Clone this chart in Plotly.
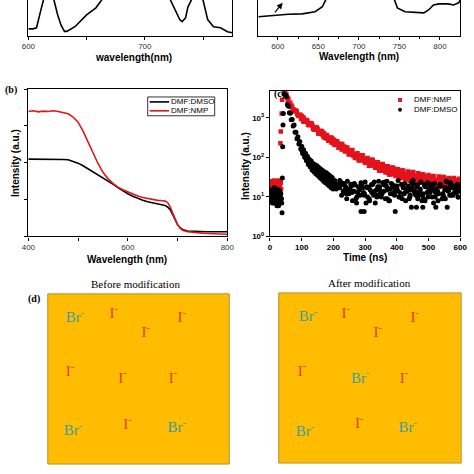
import plotly.graph_objects as go

W = H = 474


def fx(px):
    return px / W


def fy(py):
    return 1 - py / H


# ---------------- data ----------------
# top-left partial panel (wavelength, relative signal)
tl_wl = [600, 604, 607, 609, 611, 613, 614, 620, 622, 625, 628, 631, 633, 640, 650, 658, 663, 665,
         720, 722, 726, 730, 732, 735, 737, 740, 742, 748, 750, 754, 759, 765, 771, 775]
tl_val = [0.19, 0.19, 0.22, 0.45, 0.75, 1.0, 1.4, 1.4, 1.0, 0.6, 0.3, 0.12, 0.12, 0.25, 0.58, 0.78, 1.0, 1.4,
          1.4, 1.0, 0.7, 0.45, 0.39, 0.5, 0.8, 1.0, 1.4, 1.4, 1.0, 0.45, 0.25, 0.22, 0.11, 0.08]

# top-right partial panel
tr_wl = [576, 590, 601, 613, 630, 646, 655, 657.5, 659, 661, 741, 744, 747.5, 757, 770, 780, 786, 792,
         799, 810, 817, 823, 825]
tr_val = [0.53, 0.56, 0.58, 0.60, 0.61, 0.67, 0.81, 0.92, 1.0, 1.4, 1.4, 1.0, 0.78, 0.67, 0.65, 0.64, 0.72,
          0.86, 0.89, 0.89, 0.86, 0.92, 1.0]

# panel (b): absorption
wl_b = [400, 410, 420, 430, 440, 450, 460, 470, 480, 490, 500, 510, 520, 530, 540, 550, 560, 570, 580, 590,
        600, 610, 620, 630, 640, 650, 660, 670, 675, 680, 685, 690, 695, 700, 705, 710, 720, 730, 740, 750,
        760, 770, 780, 790, 800]
abs_dmso = [2.10, 2.10, 2.10, 2.11, 2.10, 2.10, 2.10, 2.09, 2.08, 2.04, 1.99, 1.92, 1.84, 1.75, 1.66, 1.58,
            1.50, 1.42, 1.33, 1.24, 1.16, 1.09, 1.03, 0.98, 0.94, 0.91, 0.88, 0.86, 0.84, 0.80, 0.73, 0.60,
            0.45, 0.32, 0.24, 0.19, 0.15, 0.14, 0.13, 0.13, 0.13, 0.13, 0.13, 0.13, 0.13]
abs_nmp = [3.39, 3.41, 3.38, 3.40, 3.39, 3.41, 3.39, 3.37, 3.33, 3.24, 3.10, 2.86, 2.56, 2.25, 1.98, 1.74,
           1.57, 1.44, 1.34, 1.27, 1.21, 1.15, 1.10, 1.06, 1.03, 1.00, 0.98, 0.97, 0.96, 0.92, 0.81, 0.64,
           0.46, 0.32, 0.23, 0.17, 0.13, 0.11, 0.10, 0.09, 0.08, 0.08, 0.07, 0.07, 0.06]

# panel (c): TRPL decay (time in ns, counts)
nmp_t_early = [1, 4, 7, 10, 13, 16, 19, 22, 25, 28, 31, 34, 2, 5, 8, 11, 14, 17, 20, 23, 26, 29, 32, 35]
nmp_i_early = [20, 25, 16, 22, 26, 18, 24, 14, 21, 26, 19, 23, 14, 19, 24, 13, 17, 22, 15, 25, 18, 13, 24, 16]
nmp_t_rise = [33, 34, 37, 38, 41, 44, 48]
nmp_i_rise = [230, 450, 1300, 2900, 5200, 6000, 4700]
nmp_t_a = [52, 60, 68, 76, 84, 92, 100, 108, 116, 124, 132, 140, 148, 156, 164, 172, 180, 188, 196, 204,
           212, 220, 228, 236, 244, 252, 260, 268, 276, 284, 292, 300, 308, 316, 324, 332, 340, 348, 356,
           364, 372, 380, 388, 396, 404, 412, 420, 428, 436, 444, 452, 460, 468, 476, 484, 492, 500, 508,
           516, 524, 532, 540, 548, 556, 564, 572, 580, 588, 596]
nmp_i_a = [3900, 2340, 2060, 1460, 1480, 1120, 1125, 800, 890, 650, 725, 505, 570, 395, 460, 315, 372, 265,
           310, 206, 256, 176, 218, 141, 178, 119, 154, 98, 128, 85, 113, 73, 97, 62, 88, 55, 76, 46, 68,
           42, 60, 37, 56, 34, 50, 30, 47, 28, 44, 26, 43, 25, 40, 23, 37, 22, 36, 20, 34, 19, 33, 19, 32,
           18, 30, 17, 30, 17, 29]
nmp_t_b = [56, 64, 72, 80, 88, 96, 104, 112, 120, 128, 136, 144, 152, 160, 168, 176, 184, 192, 200, 208,
           216, 224, 232, 240, 248, 256, 264, 272, 280, 288, 296, 304, 312, 320, 328, 336, 344, 352, 360,
           368, 376, 384, 392, 400, 408, 416, 424, 432, 440, 448, 456, 464, 472, 480, 488, 496, 504, 512,
           520, 528, 536, 544, 552, 560, 568, 576, 584, 592, 600]
nmp_i_b = [2627, 2407, 1564, 1550, 1158, 1206, 821, 883, 675, 748, 524, 531, 402, 473, 342, 364, 266, 318,
           226, 240, 176, 220, 160, 164, 120, 153, 109, 114, 84, 113, 81, 89, 62, 88, 63, 64, 47, 67, 47,
           52, 37, 55, 38, 43, 30, 47, 33, 35, 26, 41, 28, 33, 23, 37, 26, 28, 20, 33, 23, 27, 18, 32, 22,
           24, 17, 29, 20, 23, 16]
nmp_t_c = [54, 62, 70, 78, 86, 94, 102, 110, 118, 126, 134, 142, 150, 158, 166, 174, 182, 190, 198, 206,
           214, 222, 230, 238, 246, 254, 262, 270, 278, 286, 294, 302, 310, 318, 326, 334, 342, 350, 358,
           366, 374, 382, 390, 398, 406, 414, 422, 430, 438, 446, 454, 462, 470, 478, 486, 494, 502, 510,
           518, 526, 534, 542, 550, 558, 566, 574, 582, 590, 598]
nmp_i_c = [3300, 2280, 1910, 1520, 1250, 1180, 990, 840, 818, 674, 625, 519, 521, 435, 373, 371, 310, 310,
           244, 239, 227, 183, 178, 178, 142, 139, 114, 123, 105, 93, 100, 82, 83, 69, 77, 65, 57, 64, 51,
           51, 43, 50, 43.5, 39, 44, 35, 38, 35, 38, 30, 34, 31, 28.5, 33, 28, 28.5, 24.7, 29.5, 26, 24.3,
           27, 23, 25.6, 24, 21, 25.5, 22, 23.3, 22]
nmp_t_d = [58, 66, 74, 82, 90, 98, 106, 114, 122, 130, 138, 146, 154, 162, 170, 178, 186, 194, 202, 210,
           218, 226, 234, 242, 250, 258, 266, 274, 282, 290, 298, 306, 314, 322, 330, 338, 346, 354, 362,
           370, 378, 386, 394, 402, 410, 418, 426, 434, 442, 450, 458, 466, 474, 482, 490, 498, 506, 514,
           522, 530, 538, 546, 554, 562, 570, 578, 586, 594, 602]
nmp_i_d = [3060, 1880, 1660, 1510, 1150, 954, 1030, 817, 678, 696, 521, 568, 437, 422, 416, 300, 302, 238,
           282, 213, 214, 158, 190, 155, 127, 148, 119, 95, 112, 112, 81, 82, 65, 82, 64, 76, 52, 55, 60,
           41, 49, 41, 51, 35, 38.5, 41, 29.5, 41, 31.7, 35, 27, 37, 29, 24.5, 32.7, 27.7, 23.8, 32.3, 23.3,
           24.8, 28.9, 20.3, 25.3, 28.3, 20.1, 22, 26.5, 19, 23.4]

dmso_t_early = [0, 3, 6, 9, 12, 15, 18, 21, 24, 27, 30, 33, 36, 1, 4, 7, 10, 13, 16, 19, 22, 25, 28, 31, 34,
                37, 2, 5, 8, 11, 14, 17, 20, 23, 26, 29, 32, 35]
dmso_i_early = [12, 8, 15, 10, 7, 13, 9, 16, 11, 6, 14, 10, 9, 9, 14, 7, 12, 17, 8, 11, 6, 13, 15, 8, 12,
                7, 10, 11, 13, 8, 9, 15, 12, 10, 7, 11, 13, 9]
dmso_t_rise = [38, 39, 40, 41, 42, 44]
dmso_i_rise = [4, 30, 186, 660, 1300, 4000]
dmso_t_1 = [46, 49, 52, 55, 58, 61, 64, 67, 70, 73, 76, 79, 82, 85, 88, 91, 94, 97, 100, 103, 106, 109, 112,
            115, 118, 121, 124, 127, 130, 133, 136, 139, 142, 145, 148, 151, 154, 157, 160, 163, 166, 169,
            172, 175, 178, 181, 184, 187, 190, 193, 196, 199]
dmso_i_1 = [5500, 3880, 3410, 2150, 1970, 1360, 1320, 900, 915, 623, 660, 431, 436, 298, 336, 218, 252, 164,
            191, 126, 156, 102, 128, 82, 107, 66, 90, 57, 81, 48, 70, 43, 65, 38, 62, 35, 56, 31, 51, 28, 47,
            25, 43, 23, 41, 21, 37, 19, 34, 17, 31, 16]
dmso_t_2 = [101, 104, 107, 110, 113, 116, 119, 122, 125, 128, 131, 134, 137, 140, 143, 146, 149, 152, 155,
            158, 161, 164, 167, 170, 173, 176, 179, 182, 185, 188, 191, 194, 197, 200]
dmso_i_2 = [147, 152, 122, 125, 94, 99, 80, 87, 63, 70, 57, 65, 47, 54, 45, 55, 39, 47, 39, 46, 31, 36.5,
            31.5, 39.5, 25.6, 32.5, 28, 34, 21.6, 25.7, 22, 28, 17.7, 23]
dmso_t_a = [204, 212, 220, 228, 236, 244, 252, 260, 268, 276, 284, 292, 300, 308, 316, 324, 332, 340, 348,
            356, 364, 372, 380, 388, 396, 404, 412, 420, 428, 436, 444, 452, 460, 468, 476, 484, 492, 500,
            508, 516, 524, 532, 540, 548, 556, 564, 572, 580, 588, 596]
dmso_i_a = [26, 20, 17, 22, 15, 25, 16, 8, 20, 13, 11, 17, 24, 10, 15, 21, 7, 18, 13, 23, 9, 16, 12, 20, 14,
            26, 10, 17, 8, 19, 15, 22, 11, 13, 24, 9, 18, 14, 21, 7, 16, 12, 20, 10, 25, 15, 11, 19, 13, 17]
dmso_t_b = [207, 215, 223, 231, 239, 247, 255, 263, 271, 279, 287, 295, 303, 311, 319, 327, 335, 343, 351,
            359, 367, 375, 383, 391, 399, 407, 415, 423, 431, 439, 447, 455, 463, 471, 479, 487, 495, 503,
            511, 519, 527, 535, 543, 551, 559, 567, 575, 583, 591, 599]
dmso_i_b = [22, 19, 24, 14, 18, 13, 21, 14, 9, 18, 23, 13, 7, 17, 20, 11, 15, 25, 10, 14, 19, 8, 22, 13, 17,
            10, 21, 12, 16, 9, 23, 14, 18, 11, 8, 20, 13, 16, 10, 22, 12, 19, 9, 15, 24, 11, 17, 13, 21, 14]
dmso_t_c = [201, 209, 217, 225, 233, 241, 249, 257, 265, 273, 281, 289, 297, 305, 313, 321, 329, 337, 345,
            353, 361, 369, 377, 385, 393, 401, 409, 417, 425, 433, 441, 449, 457, 465, 473, 481, 489, 497,
            505, 513, 521, 529, 537, 545, 553, 561, 569, 577, 585, 593]
dmso_i_c = [24, 16, 19, 21, 22, 12, 12, 19, 14, 7, 16, 21, 11, 18, 9, 13, 24, 10, 16, 12, 20, 15, 8, 17, 11,
            19, 13, 9, 22, 14, 10, 17, 12, 20, 15, 11, 8, 23, 13, 18, 10, 14, 21, 12, 9, 16, 19, 11, 14, 10]
dmso_t_d = [210, 218, 226, 234, 242, 250, 258, 266, 274, 282, 290, 298, 306, 314, 322, 330, 338, 346, 354,
            362, 370, 378, 386, 394, 402, 410, 418, 426, 434, 442, 450, 458, 466, 474, 482, 490, 498, 506,
            514, 522, 530, 538, 546, 554, 562, 570, 578, 586, 594, 602]
dmso_i_d = [18, 21, 11, 20, 9, 16, 13, 22, 10, 15, 19, 12, 17, 8, 21, 14, 11, 18, 13, 24, 9, 16, 12, 19, 15,
            10, 20, 13, 17, 11, 22, 14, 9, 16, 12, 18, 10, 21, 15, 13, 8, 19, 11, 17, 14, 23, 12, 16, 10, 18]
dmso_t_out = [287, 297, 395, 446, 462, 482, 523, 559, 220, 451, 369]
dmso_i_out = [4.3, 4.3, 4.3, 5.5, 5.5, 5.5, 5.5, 5.5, 26, 26, 25]

# panel (d): ion labels (position in % of each square)
ions_before = ["Br", "I", "I", "I", "I", "I", "I", "Br", "I", "Br"]
xb = [15, 36.4, 73.8, 54, 12.3, 41.2, 69, 13.9, 43.9, 71.1]
yb = [85.5, 87.8, 85.5, 76.7, 54, 50, 50, 19.2, 22.7, 20.9]
ions_after = ["Br", "I", "I", "I", "I", "Br", "I", "Br", "I", "Br"]
xa = [16, 36.7, 74.5, 54.3, 12.8, 44.7, 68.6, 14.4, 44.1, 70.7]
ya = [85.5, 87.2, 84.9, 76.2, 53.5, 49.4, 49.4, 18, 22.7, 20.3]

ION_COLOR = {"Br": "#3F9E9C", "I": "#E0401C"}
RED_B = "#E0161B"
RED_C = "#E4131B"

SANS = "Liberation Sans, Arial, sans-serif"
SERIF = "Liberation Serif, Times New Roman, serif"

fig = go.Figure()

# top-left
fig.add_trace(go.Scatter(x=tl_wl, y=tl_val, mode="lines", line=dict(color="black", width=1.6),
                         xaxis="x", yaxis="y", showlegend=False))
# top-right
fig.add_trace(go.Scatter(x=tr_wl, y=tr_val, mode="lines", line=dict(color="black", width=1.6),
                         xaxis="x2", yaxis="y2", showlegend=False))
# (b)
fig.add_trace(go.Scatter(x=wl_b, y=abs_dmso, mode="lines", name="DMF:DMSO",
                         line=dict(color="black", width=1.6), xaxis="x3", yaxis="y3", showlegend=False))
fig.add_trace(go.Scatter(x=wl_b, y=abs_nmp, mode="lines", name="DMF:NMP",
                         line=dict(color=RED_B, width=1.6), xaxis="x3", yaxis="y3", showlegend=False))
# (c)
nmp_t = nmp_t_early + nmp_t_rise + nmp_t_a + nmp_t_b + nmp_t_c + nmp_t_d
nmp_i = nmp_i_early + nmp_i_rise + nmp_i_a + nmp_i_b + nmp_i_c + nmp_i_d
dmso_t = (dmso_t_early + dmso_t_rise + dmso_t_1 + dmso_t_2 + dmso_t_a + dmso_t_b + dmso_t_c + dmso_t_d
          + dmso_t_out)
dmso_i = (dmso_i_early + dmso_i_rise + dmso_i_1 + dmso_i_2 + dmso_i_a + dmso_i_b + dmso_i_c + dmso_i_d
          + dmso_i_out)
fig.add_trace(go.Scatter(x=nmp_t, y=nmp_i, mode="markers", name="DMF:NMP",
                         marker=dict(symbol="square", size=4.5, color=RED_C, line=dict(width=0)),
                         xaxis="x4", yaxis="y4", showlegend=False))
fig.add_trace(go.Scatter(x=dmso_t, y=dmso_i, mode="markers", name="DMF:DMSO",
                         marker=dict(symbol="circle", size=5, color="black", line=dict(width=0)),
                         xaxis="x4", yaxis="y4", showlegend=False))
# (d)
fig.add_trace(go.Scatter(x=xb, y=yb, mode="text", text=[s + "<sup>-</sup>" for s in ions_before],
                         textfont=dict(family=SERIF, size=15, color=[ION_COLOR[s] for s in ions_before]),
                         xaxis="x5", yaxis="y5", showlegend=False, hoverinfo="skip"))
fig.add_trace(go.Scatter(x=xa, y=ya, mode="text", text=[s + "<sup>-</sup>" for s in ions_after],
                         textfont=dict(family=SERIF, size=15, color=[ION_COLOR[s] for s in ions_after]),
                         xaxis="x6", yaxis="y6", showlegend=False, hoverinfo="skip"))

AX = dict(showline=True, linecolor="black", linewidth=1.4, showgrid=False, zeroline=False,
          ticks="outside", ticklen=3, tickwidth=1.2, tickcolor="black")
tick_small = dict(size=8, family=SANS, color="#333")

fig.update_layout(
    width=W, height=H, margin=dict(l=0, r=0, t=0, b=0),
    paper_bgcolor="white", plot_bgcolor="rgba(0,0,0,0)",
    font=dict(family=SANS, color="black"), showlegend=False,
    xaxis=dict(AX, domain=[fx(22), fx(232)], range=[600, 775], anchor="y",
               tickvals=[600, 650, 700, 750], ticktext=["600", "", "700", ""], tickfont=tick_small),
    yaxis=dict(AX, domain=[fy(36), 1], range=[0, 1], anchor="x", mirror=True, ticks="",
               showticklabels=False),
    xaxis2=dict(AX, domain=[fx(259), fx(467)], range=[576, 825], anchor="y2",
                tickvals=[600, 650, 700, 750, 800], tickfont=tick_small,
                minor=dict(tickvals=[625, 675, 725, 775], ticks="outside", ticklen=2, tickcolor="black")),
    yaxis2=dict(AX, domain=[fy(36), 1], range=[0, 1], anchor="x2", mirror=True, ticks="",
                showticklabels=False),
    xaxis3=dict(AX, domain=[fx(22), fx(227)], range=[400, 800], anchor="y3", mirror=True,
                tickvals=[400, 500, 600, 700, 800], ticktext=["400", "", "600", "", "800"],
                tickfont=tick_small),
    yaxis3=dict(AX, domain=[fy(239), fy(90)], range=[0, 4], anchor="x3", mirror=True,
                tickvals=[0, 1, 2, 3, 4], showticklabels=False),
    xaxis4=dict(AX, domain=[fx(271), fx(467)], range=[0, 600], anchor="y4", mirror=True,
                tickvals=[0, 100, 200, 300, 400, 500, 600],
                ticktext=["<b>%d</b>" % v for v in [0, 100, 200, 300, 400, 500, 600]],
                tickfont=dict(size=8, family=SANS, color="black")),
    yaxis4=dict(AX, domain=[fy(239), fy(92)], type="log", range=[0, 3.68], anchor="x4", mirror=True,
                tickvals=[1, 10, 100, 1000],
                ticktext=["<b>10<sup>0</sup></b>", "<b>10<sup>1</sup></b>", "<b>10<sup>2</sup></b>",
                          "<b>10<sup>3</sup></b>"],
                tickfont=dict(size=8, family=SANS, color="black")),
    xaxis5=dict(domain=[fx(42), fx(229)], range=[0, 100], visible=False, anchor="y5"),
    yaxis5=dict(domain=[fy(469), fy(297)], range=[0, 100], visible=False, anchor="x5"),
    xaxis6=dict(domain=[fx(280), fx(468)], range=[0, 100], visible=False, anchor="y6"),
    yaxis6=dict(domain=[fy(468), fy(296)], range=[0, 100], visible=False, anchor="x6"),
)

shapes = []
for xr, yr in [("x5", "y5"), ("x6", "y6")]:
    shapes.append(dict(type="rect", xref=xr + " domain", yref=yr + " domain", x0=0, x1=1, y0=0, y1=1,
                       fillcolor="#FFBC00", line=dict(color="#B89033", width=1), layer="below"))


def pshape(kind, x0, y0, x1, y1, **kw):
    d = dict(type=kind, xref="paper", yref="paper", x0=fx(x0), x1=fx(x1), y0=fy(y0), y1=fy(y1))
    d.update(kw)
    shapes.append(d)


# legend of (b)
pshape("rect", 145, 98, 214, 117, line=dict(color="black", width=0.8), fillcolor="white")
pshape("line", 147, 103, 167, 103, line=dict(color="black", width=1.6))
pshape("line", 147, 112, 167, 112, line=dict(color=RED_B, width=1.6))
# legend of (c)
pshape("rect", 403, 99, 407, 103, line=dict(width=0), fillcolor=RED_C)
pshape("circle", 403, 109, 407, 113, line=dict(width=0), fillcolor="black")

fig.update_layout(shapes=shapes)

ann = []


def label(text, px, py, size=10, family=SANS, angle=0, bold=True, xanchor="center"):
    ann.append(dict(text=("<b>%s</b>" % text) if bold else text, x=fx(px), y=fy(py), xref="paper",
                    yref="paper", showarrow=False, textangle=angle, xanchor=xanchor, yanchor="middle",
                    font=dict(size=size, family=family, color="black")))


label("wavelength(nm)", 130, 58)
label("Wavelength (nm)", 363, 57)
label("Wavelength (nm)", 124, 262)
label("Intensity (a.u.)", 8, 165, angle=-90)
label("Time (ns)", 369, 260)
label("Intensity (a.u.)", 245, 168, angle=-90)
label("(b)", 12, 91, size=10, family=SERIF, xanchor="right")
label("(c)", 281, 95, size=10, family=SERIF)
label("(d)", 28, 302, size=10, family=SERIF)
label("Before modification", 132, 287, size=11, family=SERIF, bold=False)
label("After modification", 374, 286, size=11, family=SERIF, bold=False)
# legend texts
label("DMF:DMSO", 167, 103, size=8, bold=False, xanchor="left")
label("DMF:NMP", 167, 112, size=8, bold=False, xanchor="left")
label("DMF:NMP", 417, 101, size=8, bold=False, xanchor="left")
label("DMF:DMSO", 417, 111, size=8, bold=False, xanchor="left")

# arrow in the top-right panel
ann.append(dict(x=606, y=0.92, xref="x2", yref="y2", ax=-9, ay=11, showarrow=True, arrowhead=2,
                arrowsize=1, arrowwidth=1.2, arrowcolor="black", text=""))

fig.update_layout(annotations=ann)
fig.write_html("out.html", config=dict(displayModeBar=False),
               post_script="document.body.style.margin='0';document.body.style.overflow='hidden';")
